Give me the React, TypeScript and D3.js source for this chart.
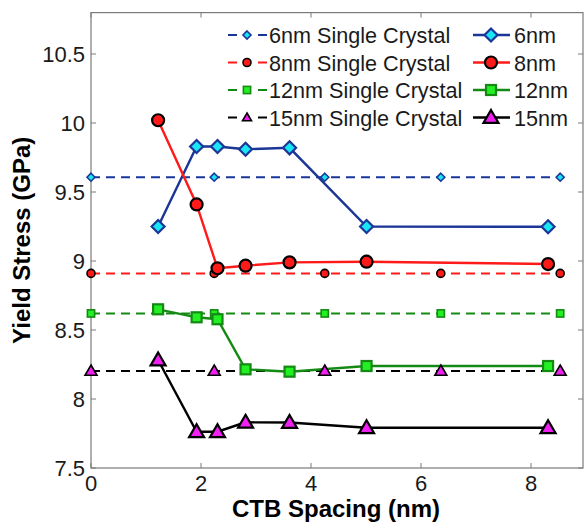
import * as d3 from 'd3'

// CTB spacing (nm) for the twinned samples and the single crystal reference markers
const spacing = [1.22, 1.92, 2.3, 2.81, 3.61, 5.01, 8.31]
const crystalX = [0, 2.24, 4.25, 6.36, 8.53]

const stress6 = [9.25, 9.83, 9.83, 9.81, 9.82, 9.25, 9.248]
const stress8 = [10.02, 9.41, 8.947, 8.966, 8.99, 8.995, 8.978]
const stress12 = [8.65, 8.592, 8.578, 8.215, 8.198, 8.239, 8.239]
const stress15 = [8.283, 7.763, 7.763, 7.831, 7.83, 7.792, 7.792]

const crystal = [9.607, 8.91, 8.62, 8.203]
const sizes = ['6nm', '8nm', '12nm', '15nm']

const xTicks = [0, 2, 4, 6, 8]
const yTicks = [7.5, 8, 8.5, 9, 9.5, 10, 10.5]

const W = 584
const H = 522
const left = 91
const right = 583
const top = 12.6
const bottom = 468

const x = d3.scaleLinear().domain([0, 8.945]).range([left, right])
const y = d3.scaleLinear().domain([7.5, 10.8]).range([bottom, top])

type Shape = 'diamond' | 'circle' | 'square' | 'triangle'

const styles = [
  { line: '#1b3697', shape: 'diamond' as Shape, fill: '#18e6f5', edge: '#1b3697', big: 6.5, small: 4 },
  { line: '#ff1a1a', shape: 'circle' as Shape, fill: '#ff1a1a', edge: '#000', big: 6, small: 4 },
  { line: '#148a14', shape: 'square' as Shape, fill: '#22f022', edge: '#148a14', big: 5, small: 3.6 },
  { line: '#000', shape: 'triangle' as Shape, fill: '#f020f0', edge: '#000', big: 7.5, small: 6 },
]

const seriesValues = [stress6, stress8, stress12, stress15]

function Marker({ shape, cx, cy, r, fill, edge, sw }: { shape: Shape; cx: number; cy: number; r: number; fill: string; edge: string; sw: number }) {
  if (shape === 'circle') return <circle cx={cx} cy={cy} r={r} fill={fill} stroke={edge} strokeWidth={sw} />
  if (shape === 'square') return <rect x={cx - r} y={cy - r} width={2 * r} height={2 * r} fill={fill} stroke={edge} strokeWidth={sw} />
  if (shape === 'diamond')
    return <path d={`M${cx},${cy - r}L${cx + r},${cy}L${cx},${cy + r}L${cx - r},${cy}Z`} fill={fill} stroke={edge} strokeWidth={sw} />
  return (
    <path
      d={`M${cx},${cy - r}L${cx + r},${cy + r * 0.72}L${cx - r},${cy + r * 0.72}Z`}
      fill={fill}
      stroke={edge}
      strokeWidth={sw}
      strokeLinejoin="miter"
    />
  )
}

export default function App() {
  const line = d3
    .line<number>()
    .x((_, i) => x(spacing[i]))
    .y((d) => y(d))

  const font = '"Liberation Sans", Arial, Helvetica, sans-serif'
  const axisColor = '#7a7a7a'

  return (
    <div style={{ position: 'absolute', left: 0, top: 0 }}>
      <svg width={W} height={H} style={{ display: 'block', background: '#fff' }} fontFamily={font}>
        {/* frame */}
        <rect x={left} y={top} width={right - left} height={bottom - top} fill="none" stroke={axisColor} strokeWidth={1.2} />
        {xTicks.map((t) => (
          <g key={'xt' + t}>
            <line x1={x(t)} x2={x(t)} y1={bottom} y2={bottom - 5} stroke={axisColor} />
            <line x1={x(t)} x2={x(t)} y1={top} y2={top + 5} stroke={axisColor} />
            <text x={x(t)} y={491} textAnchor="middle" fontSize={22} fill="#1a1a1a">
              {t}
            </text>
          </g>
        ))}
        {yTicks.map((t) => (
          <g key={'yt' + t}>
            <line x1={left} x2={left + 5} y1={y(t)} y2={y(t)} stroke={axisColor} />
            <line x1={right} x2={right - 5} y1={y(t)} y2={y(t)} stroke={axisColor} />
            <text x={85} y={y(t) + 8} textAnchor="end" fontSize={22} fill="#1a1a1a">
              {t}
            </text>
          </g>
        ))}

        {/* single crystal reference lines */}
        {crystal.map((v, k) => (
          <g key={'sc' + k}>
            <line
              x1={x(crystalX[0])}
              x2={x(crystalX[crystalX.length - 1])}
              y1={y(v)}
              y2={y(v)}
              stroke={styles[k].line}
              strokeWidth={2}
              strokeDasharray="9,6"
            />
          </g>
        ))}

        {/* series lines */}
        {seriesValues.map((vals, k) => (
          <path key={'ln' + k} d={line(vals) || ''} fill="none" stroke={styles[k].line} strokeWidth={2.4} />
        ))}

        {/* single crystal markers */}
        {crystal.map((v, k) =>
          crystalX.map((cx, j) => (
            <Marker
              key={'scm' + k + '-' + j}
              shape={styles[k].shape}
              cx={x(cx)}
              cy={y(v)}
              r={styles[k].small}
              fill={styles[k].fill}
              edge={styles[k].edge}
              sw={1.6}
            />
          ))
        )}

        {/* series markers */}
        {seriesValues.map((vals, k) =>
          vals.map((v, j) => (
            <Marker
              key={'m' + k + '-' + j}
              shape={styles[k].shape}
              cx={x(spacing[j])}
              cy={y(v)}
              r={styles[k].big}
              fill={styles[k].fill}
              edge={styles[k].edge}
              sw={2.2}
            />
          ))
        )}

        {/* legend */}
        {sizes.map((s, k) => {
          const ly = 35 + k * 27.5
          const st = styles[k]
          return (
            <g key={'lg' + k}>
              <line x1={228} x2={267} y1={ly} y2={ly} stroke={st.line} strokeWidth={2} strokeDasharray="9,6" />
              <rect x={238} y={ly - 6} width={18} height={12} fill="#fff" />
              <Marker shape={st.shape} cx={247} cy={ly} r={k === 3 ? 4.5 : st.small} fill={st.fill} edge={st.edge} sw={1.6} />
              <text x={269} y={ly + 8} fontSize={21.6} fill="#1a1a1a">
                {s} Single Crystal
              </text>
              <line x1={473} x2={510} y1={ly} y2={ly} stroke={st.line} strokeWidth={2.4} />
              <Marker shape={st.shape} cx={491} cy={ly} r={st.big} fill={st.fill} edge={st.edge} sw={2.2} />
              <text x={514} y={ly + 8} fontSize={21.6} fill="#1a1a1a">
                {s}
              </text>
            </g>
          )
        })}

        {/* axis titles */}
        <text x={(left + right) / 2 - 1} y={517} textAnchor="middle" fontSize={24} fontWeight="bold" fill="#000">
          CTB Spacing (nm)
        </text>
        <text
          transform={`translate(30,${(top + bottom) / 2}) rotate(-90)`}
          textAnchor="middle"
          fontSize={24}
          fontWeight="bold"
          fill="#000"
        >
          Yield Stress (GPa)
        </text>
      </svg>
    </div>
  )
}
